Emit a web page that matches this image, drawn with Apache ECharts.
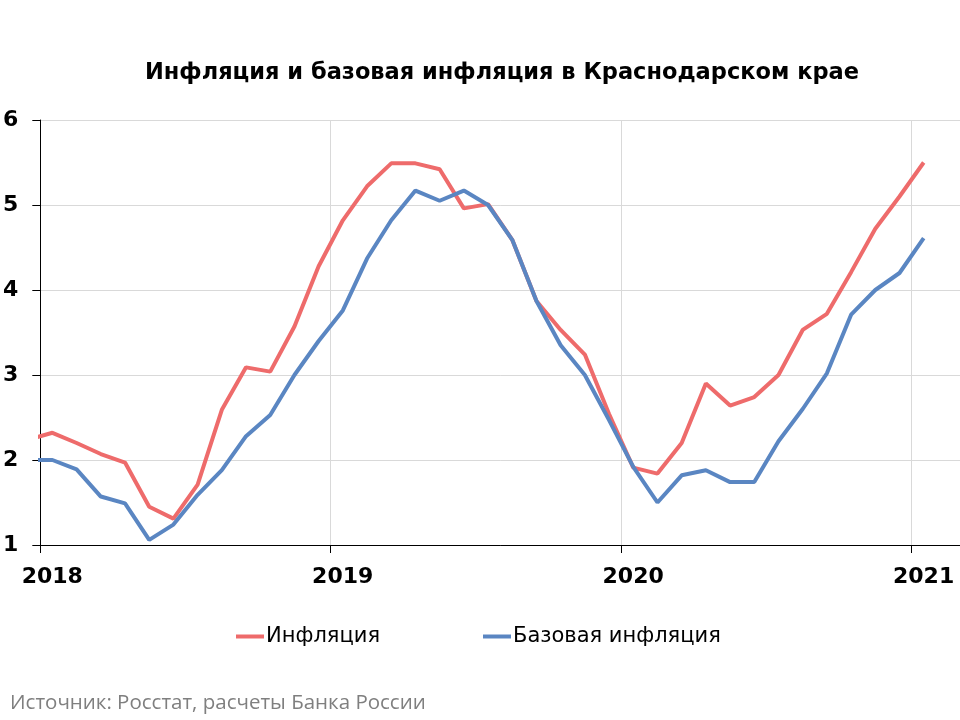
<!DOCTYPE html>
<html>
<head>
<meta charset="utf-8">
<script src="https://cdn.jsdelivr.net/npm/echarts@6/dist/echarts.min.js"></script>
<style>html,body{margin:0;padding:0;background:#fff}#c{width:960px;height:720px}</style>
</head>
<body>
<div id="c"></div>
<script>
var months = ['2017-12',
  '2018-01','2018-02','2018-03','2018-04','2018-05','2018-06','2018-07','2018-08','2018-09','2018-10','2018-11','2018-12',
  '2019-01','2019-02','2019-03','2019-04','2019-05','2019-06','2019-07','2019-08','2019-09','2019-10','2019-11','2019-12',
  '2020-01','2020-02','2020-03','2020-04','2020-05','2020-06','2020-07','2020-08','2020-09','2020-10','2020-11','2020-12',
  '2021-01'];
var inflation = [2.24,
  2.32,2.20,2.07,1.97,1.45,1.31,1.71,2.59,3.09,3.04,3.57,4.28,
  4.82,5.22,5.49,5.49,5.42,4.96,5.01,4.59,3.87,3.53,3.24,2.54,
  1.91,1.84,2.20,2.90,2.64,2.74,3.00,3.53,3.72,4.21,4.72,5.10,
  5.50];
var coreInflation = [2.00,
  2.00,1.89,1.57,1.49,1.06,1.24,1.59,1.88,2.28,2.53,3.00,3.40,
  3.76,4.37,4.82,5.17,5.05,5.17,5.00,4.59,3.87,3.35,3.00,2.47,
  1.92,1.50,1.82,1.88,1.74,1.74,2.22,2.60,3.02,3.71,4.00,4.20,
  4.61];
var seriesNames = ['Инфляция', 'Базовая инфляция'];
var yearTicks = [2018, 2019, 2020, 2021];
var titleText = 'Инфляция и базовая инфляция в Краснодарском крае';
var sourceText = 'Источник: Росстат, расчеты Банка России';

// month -> position inside its year (mid-month)
function monthPos(m) {
  var p = m.split('-');
  return +p[0] + (+p[1] - 0.5) / 12;
}
function pairs(vals) {
  return months.map(function (m, i) { return [monthPos(m), vals[i]]; });
}

var chart = echarts.init(document.getElementById('c'), null, {renderer: 'canvas'});
var fontWide = '"DejaVu Sans", sans-serif';
chart.setOption({
  animation: false,
  backgroundColor: '#ffffff',
  title: {
    text: titleText,
    left: 497, top: 57, textAlign: 'center',
    textStyle: {fontFamily: fontWide, fontSize: 22.5, fontWeight: 'bold', color: '#000'}
  },
  legend: {
    data: seriesNames,
    top: 621, left: 231,
    icon: 'rect', itemWidth: 28, itemHeight: 4, itemGap: 103,
    textStyle: {fontFamily: fontWide, fontSize: 21, color: '#000', padding: [0, 0, 0, -3]}
  },
  graphic: [{
    type: 'text', left: 10, top: 693,
    style: {text: sourceText, fontFamily: '"Open Sans", sans-serif', fontSize: 20.5, fill: '#7f7f7f'}
  }],
  grid: {left: 40, right: 0, top: 120, bottom: 175, containLabel: false},
  xAxis: {
    type: 'value', min: 2018, max: 2021 + 2 / 12, interval: 1,
    axisLine: {lineStyle: {color: '#000', width: 1}},
    axisTick: {show: true, length: 8, lineStyle: {color: '#000'}},
    axisLabel: {
      showMaxLabel: false, margin: 21, padding: [0, 0, 0, 24],
      fontFamily: fontWide, fontSize: 22, fontWeight: 'bold', color: '#000',
      formatter: function (v) { return yearTicks.indexOf(Math.round(v)) >= 0 && Math.abs(v - Math.round(v)) < 1e-6 ? String(Math.round(v)) : ''; }
    },
    splitLine: {show: true, lineStyle: {color: '#d9d9d9', width: 1}}
  },
  yAxis: {
    type: 'value', min: 1, max: 6, interval: 1,
    axisLine: {show: true, lineStyle: {color: '#000', width: 1}},
    axisTick: {show: true, length: 8, lineStyle: {color: '#000'}},
    axisLabel: {margin: 22, fontFamily: fontWide, fontSize: 22, fontWeight: 'bold', color: '#000'},
    splitLine: {show: true, lineStyle: {color: '#d9d9d9', width: 1}}
  },
  series: [
    {name: seriesNames[0], type: 'line', data: pairs(inflation), showSymbol: false, symbol: 'none',
     clip: true, color: '#EE6B6B', lineStyle: {width: 4, color: '#EE6B6B'}, z: 2},
    {name: seriesNames[1], type: 'line', data: pairs(coreInflation), showSymbol: false, symbol: 'none',
     clip: true, color: '#5A86C2', lineStyle: {width: 4, color: '#5A86C2'}, z: 3}
  ]
});
</script>
</body>
</html>
